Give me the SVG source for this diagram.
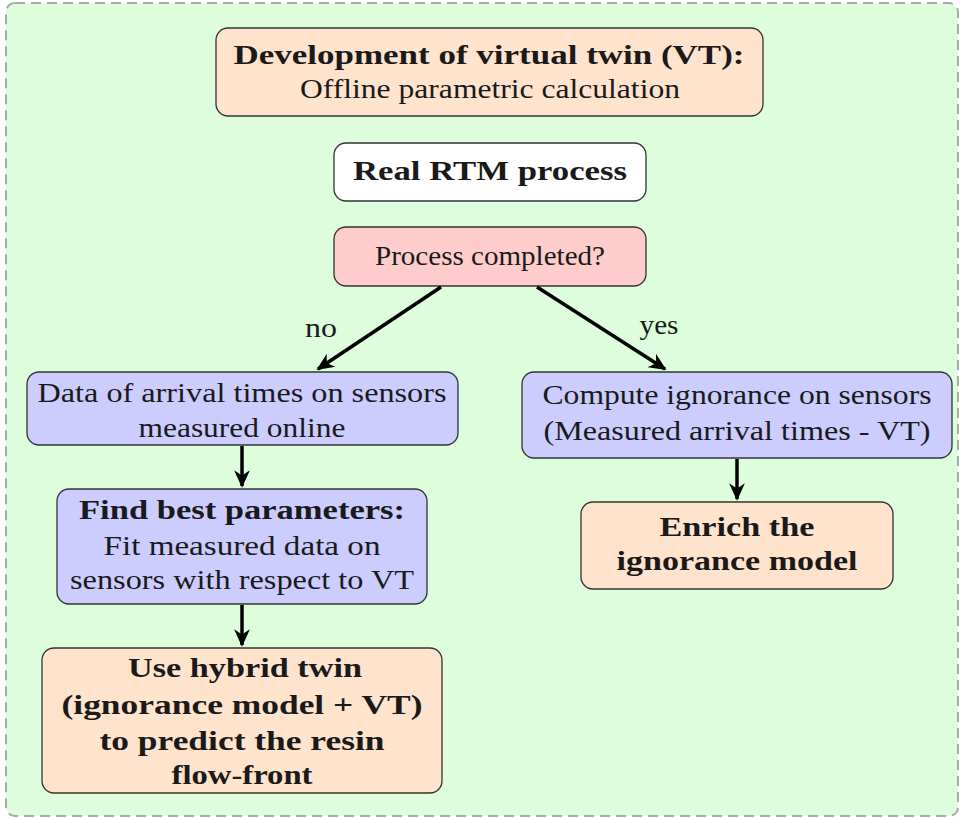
<svg xmlns="http://www.w3.org/2000/svg" width="964" height="819" viewBox="0 0 964 819">
<style>
text{font-family:"Liberation Serif","DejaVu Serif",serif;font-size:28px;fill:#1a1a1a;text-anchor:middle}
.b{font-weight:bold}
.box{stroke:#333;stroke-width:1.3}
.or{fill:#ffe3cc}
.bl{fill:#ccccff}
.rd{fill:#ffcccc}
.wh{fill:#ffffff}
.edge{stroke:#000;stroke-width:3.5;fill:none;marker-end:url(#ah)}
</style>
<defs>
<marker id="ah" viewBox="0 0 10 10" refX="9" refY="5" markerWidth="5" markerHeight="5" orient="auto" markerUnits="strokeWidth">
<path d="M0,0.5 L10,5 L0,9.5 L3,5 Z" fill="#000"/>
</marker>
</defs>
<rect x="6" y="3" width="952" height="813" rx="9" fill="#ddfddd" stroke="#aaa" stroke-width="2" stroke-dasharray="10,6"/>
<g id="n1"><rect class="box or" x="216" y="28" width="547" height="88" rx="12"/>
<text class="b" x="489" y="64" textLength="511" lengthAdjust="spacingAndGlyphs">Development of virtual twin (VT):</text>
<text x="490" y="98" textLength="380" lengthAdjust="spacingAndGlyphs">Offline parametric calculation</text></g>
<g id="n2"><rect class="box wh" x="334" y="143" width="312" height="58" rx="12"/>
<text class="b" x="490" y="180" textLength="274" lengthAdjust="spacingAndGlyphs">Real RTM process</text></g>
<g id="n3"><rect class="box rd" x="334" y="227" width="312" height="59" rx="12"/>
<text x="490" y="265" textLength="230" lengthAdjust="spacingAndGlyphs">Process completed?</text></g>
<g id="n4"><rect class="box bl" x="27" y="372" width="431" height="73" rx="12"/>
<text x="242" y="402" textLength="409" lengthAdjust="spacingAndGlyphs">Data of arrival times on sensors</text>
<text x="242" y="437" textLength="207" lengthAdjust="spacingAndGlyphs">measured online</text></g>
<g id="n5"><rect class="box bl" x="522" y="372" width="430" height="86" rx="12"/>
<text x="737" y="404" textLength="389" lengthAdjust="spacingAndGlyphs">Compute ignorance on sensors</text>
<text x="737" y="440" textLength="387" lengthAdjust="spacingAndGlyphs">(Measured arrival times - VT)</text></g>
<g id="n6"><rect class="box bl" x="57" y="489" width="370" height="115" rx="12"/>
<text class="b" x="242" y="519" textLength="326" lengthAdjust="spacingAndGlyphs">Find best parameters:</text>
<text x="242" y="555" textLength="277" lengthAdjust="spacingAndGlyphs">Fit measured data on</text>
<text x="242" y="589" textLength="344" lengthAdjust="spacingAndGlyphs">sensors with respect to VT</text></g>
<g id="n7"><rect class="box or" x="42" y="648" width="400" height="145" rx="12"/>
<text class="b" x="245" y="677" textLength="234" lengthAdjust="spacingAndGlyphs">Use hybrid twin</text>
<text class="b" x="242" y="714" textLength="361" lengthAdjust="spacingAndGlyphs">(ignorance model + VT)</text>
<text class="b" x="242" y="750" textLength="285" lengthAdjust="spacingAndGlyphs">to predict the resin</text>
<text class="b" x="242" y="784" textLength="141" lengthAdjust="spacingAndGlyphs">flow-front</text></g>
<g id="n8"><rect class="box or" x="581" y="502" width="312" height="87" rx="12"/>
<text class="b" x="737" y="536" textLength="155" lengthAdjust="spacingAndGlyphs">Enrich the</text>
<text class="b" x="737" y="570" textLength="241" lengthAdjust="spacingAndGlyphs">ignorance model</text></g>
<g id="edges">
<line class="edge" x1="441" y1="287" x2="318" y2="369"/>
<line class="edge" x1="537" y1="287" x2="665" y2="369"/>
<line class="edge" x1="242" y1="446" x2="242" y2="486"/>
<line class="edge" x1="242" y1="605" x2="242" y2="645"/>
<line class="edge" x1="737" y1="459" x2="737" y2="499"/>
<text x="321" y="337" textLength="32" lengthAdjust="spacingAndGlyphs">no</text>
<text x="659" y="334" textLength="39" lengthAdjust="spacingAndGlyphs">yes</text>
</g>
</svg>
